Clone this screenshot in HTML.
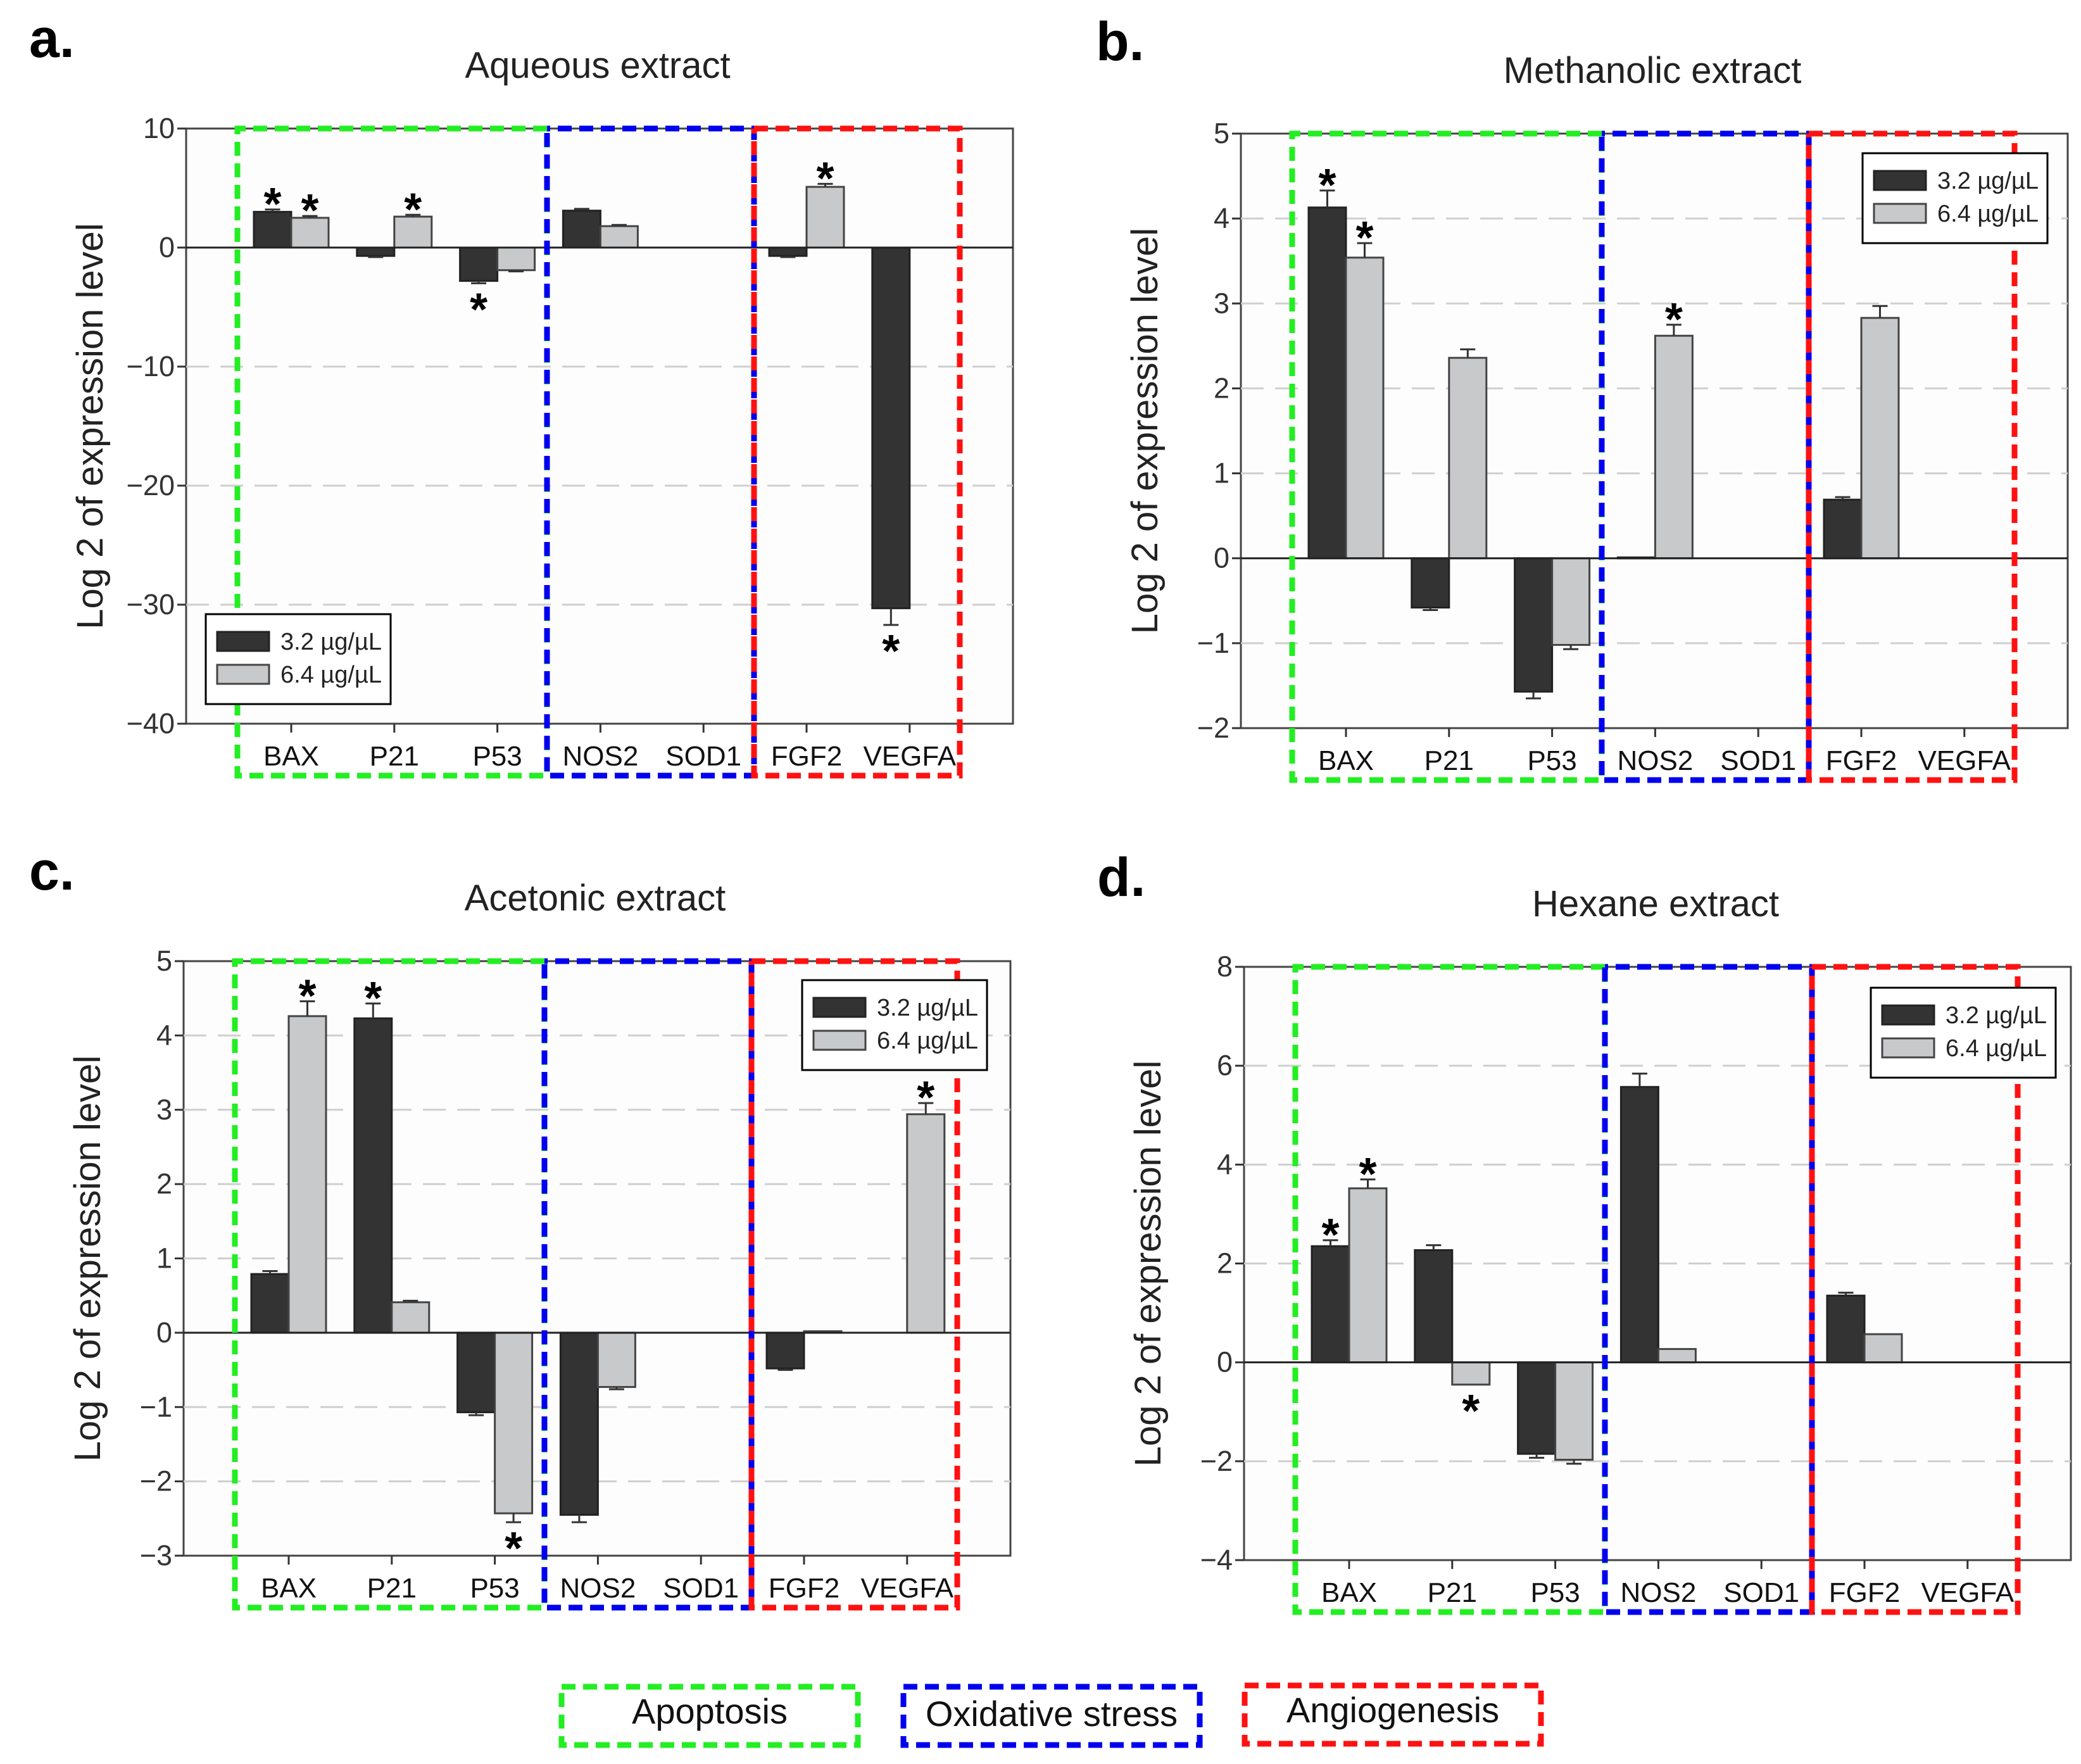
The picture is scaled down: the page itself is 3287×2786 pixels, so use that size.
<!DOCTYPE html>
<html><head><meta charset="utf-8">
<style>
html,body{margin:0;padding:0;background:#fff;}
svg{display:block;font-family:"Liberation Sans",Arial,sans-serif;}
</style></head>
<body>
<svg id="fig" width="3287" height="2786" viewBox="0 0 3287 2786" xmlns="http://www.w3.org/2000/svg">
<rect x="0" y="0" width="3287" height="2786" fill="#fff"/>
<g id="panels"></g>
<g id="bottom-legend">
  <rect x="887" y="2664" width="468" height="92" fill="none" stroke="#22ee22" stroke-width="9" stroke-dasharray="22 12"/>
  <text x="1121" y="2722" font-size="56" text-anchor="middle" fill="#111">Apoptosis</text>
  <rect x="1427" y="2664" width="468" height="92" fill="none" stroke="#0000ee" stroke-width="9" stroke-dasharray="22 12"/>
  <text x="1661" y="2726" font-size="56" text-anchor="middle" fill="#111">Oxidative stress</text>
  <rect x="1966" y="2662" width="468" height="92" fill="none" stroke="#ff1111" stroke-width="9" stroke-dasharray="22 12"/>
  <text x="2200" y="2720" font-size="56" text-anchor="middle" fill="#111">Angiogenesis</text>
</g>
</svg>
<script>
const categories = ["BAX","P21","P53","NOS2","SOD1","FGF2","VEGFA"];

const aTicks = [-40,-30,-20,-10,0,10];
const aDark = [3.0,-0.7,-2.8,3.1,0,-0.7,-30.3];
const aLight = [2.5,2.6,-1.9,1.8,0,5.1,0];
const aDarkErr = [0.2,0.1,0.2,0.15,0,0.1,1.4];
const aLightErr = [0.15,0.15,0.1,0.1,0,0.25,0];
const aStarDark = [1,0,1,0,0,0,1];
const aStarLight = [1,1,0,0,0,1,0];

const bTicks = [-2,-1,0,1,2,3,4,5];
const bDark = [4.13,-0.58,-1.57,0.01,0,0.69,0];
const bLight = [3.54,2.36,-1.02,2.62,0,2.83,0];
const bDarkErr = [0.2,0.03,0.08,0,0,0.03,0];
const bLightErr = [0.17,0.1,0.05,0.13,0,0.14,0];
const bStarDark = [1,0,0,0,0,0,0];
const bStarLight = [1,0,0,1,0,0,0];

const cTicks = [-3,-2,-1,0,1,2,3,4,5];
const cDark = [0.79,4.23,-1.07,-2.45,0,-0.48,0];
const cLight = [4.26,0.41,-2.43,-0.73,0,0.02,2.94];
const cDarkErr = [0.04,0.2,0.04,0.1,0,0.02,0];
const cLightErr = [0.2,0.02,0.12,0.03,0,0,0.15];
const cStarDark = [0,1,0,0,0,0,0];
const cStarLight = [1,0,1,0,0,0,1];

const dTicks = [-4,-2,0,2,4,6,8];
const dDark = [2.35,2.27,-1.85,5.57,0,1.35,0];
const dLight = [3.52,-0.45,-1.97,0.27,0,0.57,0];
const dDarkErr = [0.12,0.1,0.08,0.27,0,0.06,0];
const dLightErr = [0.18,0,0.08,0,0,0,0];
const dStarDark = [1,0,0,0,0,0,0];
const dStarLight = [1,1,0,0,0,0,0];

const NS = "http://www.w3.org/2000/svg";
function mk(tag, attrs, parent){
  const e = document.createElementNS(NS, tag);
  for (const k in attrs) e.setAttribute(k, attrs[k]);
  parent.appendChild(e);
  return e;
}

function drawPanel(p){
  const root = document.getElementById("panels");
  const g = mk("g", {}, root);
  
  
  const L = p.L, T = p.T, W = 1306, H = p.H;
  const ymin = p.ticks[0], ymax = p.ticks[p.ticks.length-1];
  const y = v => T + (ymax - v) / (ymax - ymin) * H;
  const xc = i => L + 166 + i * 162.8;
  const BW = 59;

  const lt = mk("text", {x:p.letterX, y:p.letterY, "font-size":86, "font-weight":"bold", fill:"#000"}, g);
  lt.textContent = p.letter;
  
  
  const tt = mk("text", {x:L + 650, y:T - 80, "font-size":58, "text-anchor":"middle", fill:"#222"}, g);
  tt.textContent = p.title;
  
  
  const yt = mk("text", {x:0, y:0, "font-size":58, "text-anchor":"middle", fill:"#222", transform:`translate(${L-132},${T+H/2}) rotate(-90)`}, g);
  yt.textContent = "Log 2 of expression level";
  
  

  const bg = mk("rect", {x:L, y:T, width:W, height:H, fill:"#fdfdfd", stroke:"#444", "stroke-width":3}, g);
  
  

  p.ticks.forEach(t => {
    const yy = y(t);
    if (t !== 0 && t !== ymin && t !== ymax) {
      const gl = mk("line", {x1:L, x2:L+W, y1:yy, y2:yy, stroke:"#cfcfcf", "stroke-width":3, "stroke-dasharray":"36 18"}, g);
      
      
    }
    const tk = mk("line", {x1:L-14, x2:L, y1:yy, y2:yy, stroke:"#333", "stroke-width":3}, g);
    
    
    const tl = mk("text", {x:L-18, y:yy+15, "font-size":45, "text-anchor":"end", fill:"#333"}, g);
    tl.textContent = t < 0 ? "\u2212" + Math.abs(t) : String(t);
    
    
  });

  function bar(v, err, x0, fill, stroke, kind, i, star){
    if (v === 0 && err === 0 && !star) return;
    const y0 = y(0), yv = y(v);
    const r = mk("rect", {x:x0, y:Math.min(y0,yv), width:BW, height:Math.max(Math.abs(yv-y0),1.5), fill:fill, stroke:stroke, "stroke-width":3}, g);
    
    
    const sgn = v >= 0 ? 1 : -1;
    const ye = y(v + sgn*err);
    const cx = x0 + BW/2;
    if (err > 0) {
      const el = mk("path", {d:`M${cx},${yv} L${cx},${ye} M${cx-12},${ye} L${cx+12},${ye}`, stroke:"#333", "stroke-width":3, fill:"none"}, g);
      
      
    }
    if (star) {
      const sy = sgn > 0 ? ye + 16 : ye + 66;
      const st = mk("text", {x:cx, y:sy, "font-size":72, "font-weight":"bold", "text-anchor":"middle", fill:"#000"}, g);
      st.textContent = "*";
      
      
    }
  }
  categories.forEach((c, i) => {
    bar(p.dark[i], p.darkErr[i], xc(i) - BW, "#333333", "#222", "dark", i, p.starDark[i]);
    bar(p.light[i], p.lightErr[i], xc(i), "#c8c9ca", "#444", "light", i, p.starLight[i]);
    const ct = mk("line", {x1:xc(i), x2:xc(i), y1:T+H, y2:T+H+14, stroke:"#333", "stroke-width":3}, g);
    
    
    const cl = mk("text", {x:xc(i), y:T+H+66, "font-size":44, "text-anchor":"middle", fill:"#111"}, g);
    cl.textContent = c;
    
    
  });
  const zl = mk("line", {x1:L, x2:L+W, y1:y(0), y2:y(0), stroke:"#222", "stroke-width":3}, g);
  
  

  const bt = T, bb = T + H + 82;
  const gx0 = L+81, gx1 = L+570, gx2 = L+897, gx3 = L+1222;
  const da = "22 12";
  const boxes = [
    ["apoptosis-box", "#22ee22", `M${gx1},${bt} L${gx0},${bt} L${gx0},${bb} L${gx1},${bb} L${gx1},${bt}`, "0"],
    ["oxidative-stress-box", "#0000ee", `M${gx1},${bt} L${gx2},${bt} L${gx2},${bb} L${gx1},${bb} L${gx1},${bt}`, "17"],
    ["angiogenesis-box", "#ff1111", `M${gx2},${bt} L${gx3},${bt} L${gx3},${bb} L${gx2},${bb} L${gx2},${bt}`, "0"]
  ];
  boxes.forEach(b => {
    const bp = mk("path", {d:b[2], fill:"none", stroke:b[1], "stroke-width":9, "stroke-dasharray":da, "stroke-dashoffset":b[3]}, g);
    
    
  });

  const lg = mk("g", {}, g);
  
  
  const lx = L + p.legX, ly = T + p.legY;
  mk("rect", {x:lx, y:ly, width:292, height:142, fill:"#fff", stroke:"#000", "stroke-width":3}, lg);
  const s1 = mk("rect", {x:lx+18, y:ly+28, width:82, height:30, fill:"#333", stroke:"#222", "stroke-width":3}, lg);
  
  
  const t1 = mk("text", {x:lx+118, y:ly+56, "font-size":38, fill:"#222"}, lg);
  t1.textContent = "3.2 \u00b5g/\u00b5L";
  
  
  const s2 = mk("rect", {x:lx+18, y:ly+80, width:82, height:30, fill:"#c8c9ca", stroke:"#444", "stroke-width":3}, lg);
  
  
  const t2 = mk("text", {x:lx+118, y:ly+108, "font-size":38, fill:"#222"}, lg);
  t2.textContent = "6.4 \u00b5g/\u00b5L";
  
  
}

drawPanel({id:"aqueous", letter:"a.", letterX:46, letterY:90, title:"Aqueous extract", L:294, T:203, H:940,
  ticks:aTicks, dark:aDark, light:aLight, darkErr:aDarkErr, lightErr:aLightErr, starDark:aStarDark, starLight:aStarLight, legX:31, legY:767});
drawPanel({id:"methanolic", letter:"b.", letterX:1731, letterY:95, title:"Methanolic extract", L:1960, T:211, H:939,
  ticks:bTicks, dark:bDark, light:bLight, darkErr:bDarkErr, lightErr:bLightErr, starDark:bStarDark, starLight:bStarLight, legX:982, legY:31});
drawPanel({id:"acetonic", letter:"c.", letterX:46, letterY:1405, title:"Acetonic extract", L:290, T:1518, H:939,
  ticks:cTicks, dark:cDark, light:cLight, darkErr:cDarkErr, lightErr:cLightErr, starDark:cStarDark, starLight:cStarLight, legX:977, legY:30});
drawPanel({id:"hexane", letter:"d.", letterX:1733, letterY:1415, title:"Hexane extract", L:1965, T:1527, H:937,
  ticks:dTicks, dark:dDark, light:dLight, darkErr:dDarkErr, lightErr:dLightErr, starDark:dStarDark, starLight:dStarLight, legX:990, legY:33});
</script>
</body></html>
